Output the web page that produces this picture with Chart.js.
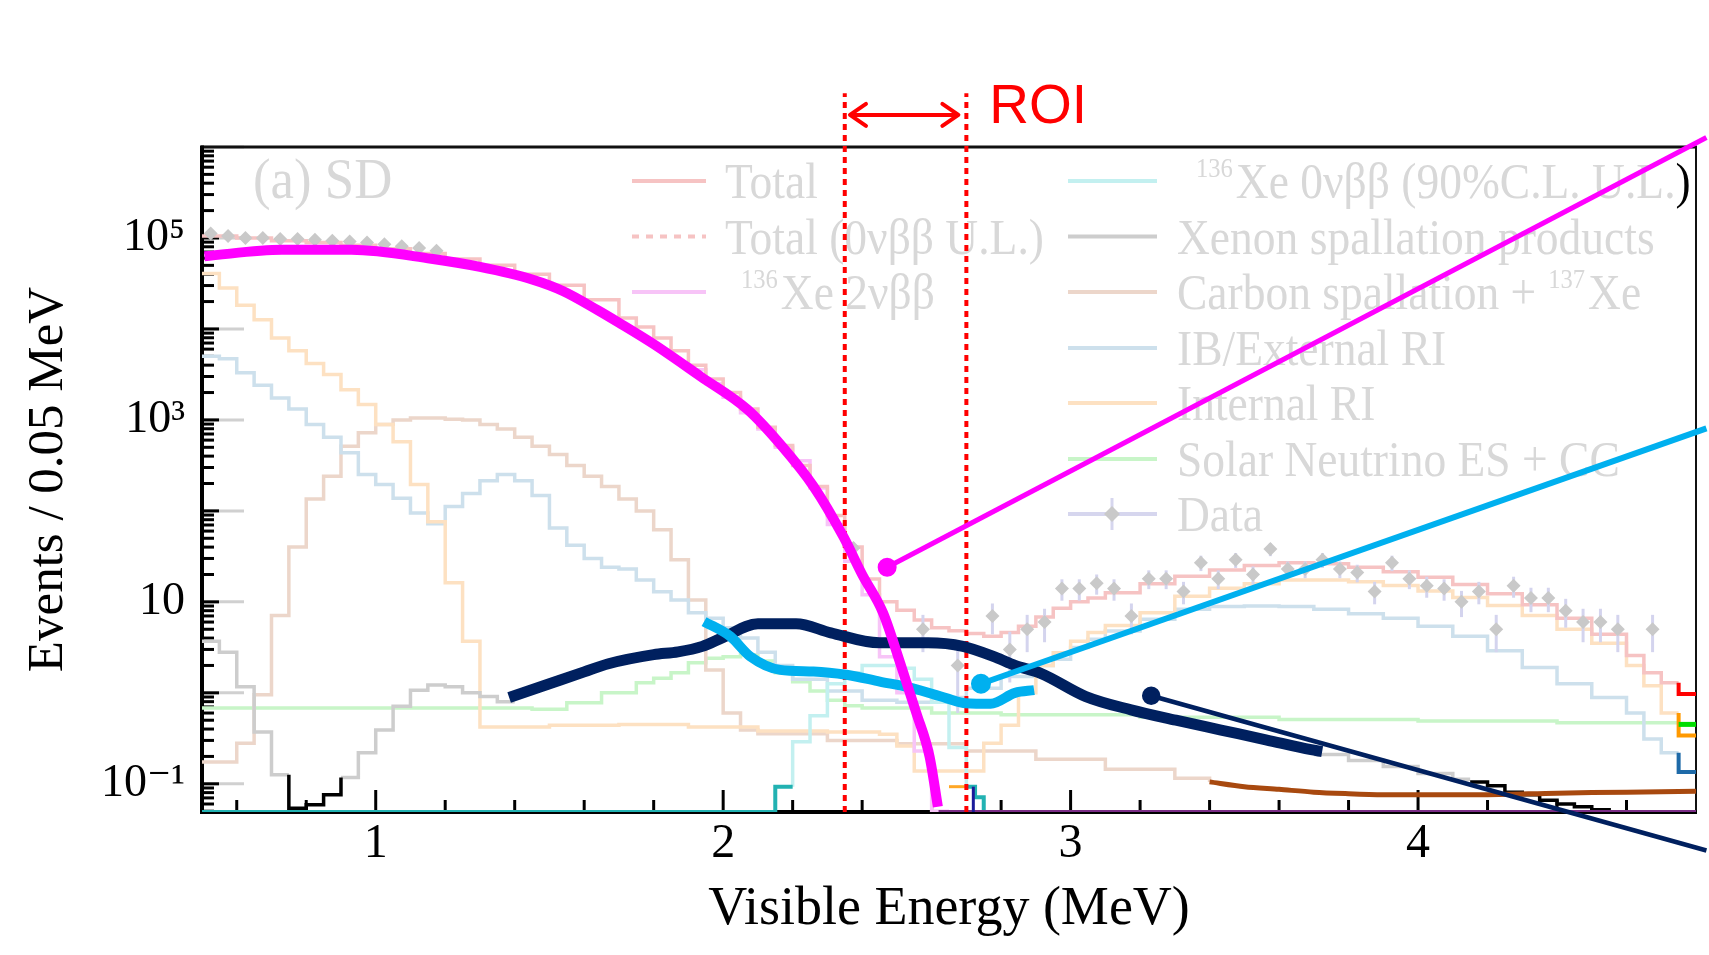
<!DOCTYPE html>
<html>
<head>
<meta charset="utf-8">
<script src="https://cdn.jsdelivr.net/npm/chart.js@4.4.1/dist/chart.umd.min.js"></script>
<style>
  html, body { margin: 0; padding: 0; background: #fff; }
</style>
</head>
<body>
<canvas id="spectrum" width="1709" height="955"></canvas>
<script>
// axes
const xMin = 0.5, xMax = 4.8;
const yMin = 0.049, yMax = 1e6;
const xTickValues = [1, 2, 3, 4];
const yTickValues = [0.1, 10, 1e3, 1e5];
const yTickLabels = ['10⁻¹', '10', '10³', '10⁵'];

// highlighted curves drawn over the figure
const magentaE = [0.507, 0.73, 0.93, 1.16, 1.30, 1.45, 1.54, 1.64, 1.70, 1.80, 1.935, 2.07, 2.17, 2.26, 2.346, 2.40, 2.46, 2.51, 2.556, 2.594, 2.618];
const magentaV = [63000, 74000, 74000, 59000, 48000, 35000, 26000, 16000, 11700, 6800, 3000, 1300, 510, 186, 52, 20, 7.6, 2.1, 0.60, 0.20, 0.056];
const navyE = [1.384, 1.50, 1.60, 1.67, 1.80, 1.87, 1.94, 2.00, 2.10, 2.21, 2.31, 2.45, 2.59, 2.69, 2.785, 2.84, 2.914, 3.044, 3.174, 3.303, 3.433, 3.562, 3.692, 3.724];
const navyV = [0.89, 1.26, 1.70, 2.09, 2.63, 2.82, 3.24, 4.07, 5.75, 5.75, 4.57, 3.55, 3.55, 3.24, 2.45, 2.0, 1.64, 0.91, 0.65, 0.50, 0.39, 0.305, 0.237, 0.226];
const cyanE = [1.945, 2.021, 2.078, 2.164, 2.26, 2.355, 2.451, 2.546, 2.642, 2.699, 2.77, 2.84, 2.895];
const cyanV = [6.08, 4.16, 2.51, 1.79, 1.72, 1.58, 1.33, 1.12, 0.875, 0.77, 0.76, 1.0, 1.07];

// pointer lines (start at the dot, run off the frame)
const magentaPtrE = [2.472, 4.83];
const magentaPtrV = [24, 1.27e6];
const cyanPtrE = [2.742, 4.83];
const cyanPtrV = [1.26, 809];
const navyPtrE = [3.232, 4.83];
const navyPtrV = [0.93, 0.0185];

// region of interest
const roiE = [2.35, 2.70];
const roiTopV = 3.9e6;
const roiArrowE = [2.365, 2.677];
const roiArrowV = [2.25e6, 2.25e6];

// data points
const dataE = [0.525, 0.575, 0.625, 0.675, 0.725, 0.775, 0.825, 0.875, 0.925, 0.975, 1.025, 1.075, 1.125, 1.175,
  2.375, 2.575, 2.675, 2.775, 2.825, 2.875, 2.925, 2.975, 3.025, 3.075, 3.125, 3.175, 3.225, 3.275, 3.325, 3.375,
  3.425, 3.475, 3.525, 3.575, 3.625, 3.675, 3.725, 3.775, 3.825, 3.875, 3.925, 3.975, 4.025, 4.075, 4.125, 4.175,
  4.225, 4.275, 4.325, 4.375, 4.425, 4.475, 4.525, 4.575, 4.675];
const dataV = [112000, 105000, 100000, 100000, 97700, 97700, 95500, 93300, 91200, 89100, 85100, 81300, 77600, 72400,
  39, 5, 2, 7, 3, 5, 6, 14, 14, 16, 14, 7, 18, 18, 13, 27,
  18, 29, 20, 38, 23, 23, 29, 23, 21, 13, 27, 18, 15, 14, 10, 13,
  5, 15, 11, 11, 8, 6, 6, 5, 5];
const dataErr = [0, 0, 0, 0, 0, 0, 0, 0, 0, 0, 0, 0, 0, 0,
  6, 2.2, 1.4, 2.6, 1.7, 2.2, 2.4, 3.7, 3.7, 4, 3.7, 2.6, 4.2, 4.2, 3.6, 5.2,
  4.2, 5.4, 4.5, 6.2, 4.8, 4.8, 5.4, 4.8, 4.6, 3.6, 5.2, 4.2, 3.9, 3.7, 3.2, 3.6,
  2.2, 3.9, 3.3, 3.3, 2.8, 2.4, 2.4, 2.2, 2.2];

// faded histograms (bin low edges, last entry closes the last bin)
const totalE = [0.50, 0.60, 0.70, 0.80, 0.90, 1.00, 1.10, 1.20, 1.30, 1.40, 1.50, 1.60,
  1.70, 1.75, 1.80, 1.85, 1.90, 1.95, 2.00, 2.05, 2.10, 2.15, 2.20, 2.25, 2.30, 2.35, 2.40, 2.45, 2.50, 2.55,
  2.60, 2.65, 2.70, 2.75, 2.80, 2.85, 2.90, 2.95, 3.00, 3.05, 3.10,
  3.20, 3.30, 3.40, 3.50, 3.60, 3.70, 3.80, 3.90, 4.00, 4.10, 4.20, 4.30, 4.40, 4.50, 4.60,
  4.65, 4.70, 4.75];
const totalV = [105000, 100000, 93300, 89100, 83200, 75900, 67600, 58900, 50100, 39800, 30200, 20900,
  13200, 10500, 7940, 5750, 3980, 2820, 2000, 1320, 832, 525, 316, 186, 89, 40, 17.8, 10.0, 8.1, 6.3,
  5.2, 4.8, 4.5, 4.2, 4.6, 5.4, 6.8, 8.5, 10.0, 11.0, 12.6,
  15.8, 19.1, 22.4, 25.1, 26.9, 26.3, 24.0, 21.4, 18.6, 15.5, 12.3, 9.3, 6.6, 4.4, 2.57,
  1.66, 1.29, 1.29];
const xe2nuE = [1.90, 1.95, 2.00, 2.05, 2.10, 2.15, 2.20, 2.25, 2.30, 2.35, 2.40, 2.45, 2.50, 2.55, 2.60, 2.65];
const xe2nuV = [3550, 2510, 1780, 1200, 794, 500, 355, 178, 71, 28, 12, 2.5, 1.0, 0.23, 0.05, 0.05];
const xe0nuE = [2.20, 2.20, 2.25, 2.30, 2.35, 2.40, 2.45, 2.50, 2.55, 2.60, 2.65, 2.70, 2.70];
const xe0nuV = [0.093, 0.29, 0.56, 1.26, 1.66, 2.0, 2.0, 1.86, 1.41, 0.79, 0.25, 0.25, 0.093];
const ibE = [0.50, 0.55, 0.60, 0.65, 0.70, 0.75, 0.80, 0.85, 0.90, 0.95, 1.00, 1.05, 1.10, 1.15, 1.20, 1.25, 1.30,
  1.35, 1.40, 1.45, 1.50, 1.55, 1.60, 1.65, 1.70, 1.75, 1.80, 1.85, 1.90, 1.95, 2.00, 2.05, 2.10, 2.15, 2.20,
  2.30, 2.40, 2.50, 2.60, 2.70, 2.80, 2.90, 2.95, 3.00, 3.05, 3.10,
  3.20, 3.30, 3.40, 3.50, 3.60, 3.70, 3.80, 3.90, 4.00, 4.10, 4.20, 4.30, 4.40, 4.50, 4.60, 4.65, 4.70, 4.75];
const ibV = [5000, 4700, 3300, 2400, 1740, 1320, 890, 645, 437, 251, 195, 138, 95, 72, 112, 155, 214,
  251, 214, 148, 65, 42, 30, 24, 23, 17.4, 12.9, 10.5, 7.6, 6.6, 5.2, 4.0, 2.8, 2.0, 1.41,
  1.05, 0.83, 0.79, 0.89, 1.12, 1.51, 2.0, 2.34, 3.16, 3.89, 4.79,
  6.46, 8.3, 8.9, 9.0, 8.9, 8.3, 7.4, 6.6, 5.4, 4.2, 2.9, 1.9, 1.26, 0.89, 0.60, 0.31, 0.22, 0.22];
const internalE = [0.50, 0.55, 0.60, 0.65, 0.70, 0.75, 0.80, 0.85, 0.90, 0.95, 1.00, 1.05, 1.10, 1.15, 1.20, 1.25, 1.30,
  1.50, 1.70, 1.90, 2.10, 2.30, 2.45, 2.50, 2.55, 2.75, 2.80,
  2.85, 2.90, 2.95, 3.00, 3.05, 3.10,
  3.20, 3.30, 3.40, 3.50, 3.60, 3.70, 3.80, 3.90, 4.00, 4.10, 4.20, 4.30, 4.40, 4.50, 4.60, 4.65, 4.70, 4.75];
const internalV = [40700, 28200, 18200, 12600, 7940, 5750, 4170, 3160, 2140, 1480, 891, 575, 195, 76, 16.2, 3.7, 0.42,
  0.44, 0.45, 0.42, 0.38, 0.37, 0.35, 0.26, 0.138, 0.28, 0.44,
  1.0, 2.0, 2.75, 3.7, 4.6, 5.5,
  7.6, 11.5, 14.1, 15.8, 17.4, 17.4, 16.6, 15.1, 13.2, 11.2, 9.1, 7.1, 5.0, 3.5, 2.0, 1.2, 0.60, 0.60];
const carbonE = [0.50, 0.60, 0.65, 0.70, 0.75, 0.80, 0.85, 0.90, 0.95, 1.00,
  1.05, 1.10, 1.15, 1.20, 1.25, 1.30, 1.35, 1.40, 1.45, 1.50,
  1.55, 1.60, 1.65, 1.70, 1.75, 1.80, 1.85, 1.90, 1.95, 2.00, 2.05, 2.10,
  2.30, 2.50, 2.70, 2.90, 3.10, 3.30, 3.40];
const carbonV = [0.174, 0.28, 0.95, 7.1, 40, 135, 240, 513, 724, 891,
  1000, 1050, 1050, 1020, 1000, 891, 794, 646, 513, 417,
  316, 240, 186, 135, 100, 62, 29, 10.5, 1.78, 0.60, 0.39, 0.355,
  0.30, 0.275, 0.23, 0.186, 0.145, 0.115, 0.105];
const carbonBoldE = [3.40, 3.50, 3.60, 3.70, 3.80, 3.90, 4.00, 4.20, 4.40, 4.60, 4.80];
const carbonBoldV = [0.105, 0.093, 0.087, 0.081, 0.078, 0.076, 0.076, 0.076, 0.079, 0.081, 0.083];
const solarE = [0.50, 1.45, 1.55, 1.65, 1.75, 1.80, 1.85, 1.90, 1.95, 2.00, 2.05, 2.10, 2.15, 2.20, 2.25, 2.30,
  2.35, 2.40, 2.60, 2.80, 3.20, 3.60, 4.00, 4.40, 4.75];
const solarV = [0.68, 0.66, 0.78, 1.0, 1.29, 1.45, 1.66, 2.14, 2.4, 2.5, 2.63, 2.24, 1.66, 1.32, 1.05, 0.83,
  0.72, 0.68, 0.60, 0.575, 0.54, 0.51, 0.49, 0.47, 0.47];
const xenonLowE = [0.50, 0.55, 0.60, 0.65, 0.70, 0.75];
const xenonLowV = [3.7, 2.8, 1.17, 0.37, 0.126, 0.126];
const xenonMidE = [0.90, 0.95, 1.00, 1.05, 1.10, 1.15, 1.20, 1.25, 1.30, 1.35, 1.40];
const xenonMidV = [0.117, 0.22, 0.39, 0.71, 1.07, 1.22, 1.17, 1.0, 0.91, 0.80, 0.80];
const xenonHighE = [3.70, 3.80, 3.90, 4.00, 4.10, 4.15];
const xenonHighV = [0.21, 0.18, 0.155, 0.13, 0.112, 0.112];

// full-colour pieces of the original figure
const blackLowE = [0.75, 0.75, 0.80, 0.85, 0.90, 0.90];
const blackLowV = [0.126, 0.054, 0.059, 0.076, 0.076, 0.117];
const blackHighE = [4.15, 4.20, 4.25, 4.30, 4.35, 4.40, 4.45, 4.50, 4.55, 4.55];
const blackHighV = [0.105, 0.095, 0.081, 0.076, 0.066, 0.060, 0.056, 0.052, 0.052, yMin];
const tealLowE = [0.50, 2.15, 2.20];
const tealLowV = [yMin, 0.093, 0.093];
const tealHighE = [2.70, 2.725, 2.75, 2.75];
const tealHighV = [0.093, 0.071, 0.071, yMin];
const purpleE = [2.62, 4.80];
const purpleV = [yMin, yMin];
const orangeTickE = [2.65, 2.70];
const orangeTickV = [0.093, 0.093];
const navyTickE = [2.72, 2.72];
const navyTickV = [yMin, 0.093];
const edgeRedE = [4.75, 4.75, 4.80];
const edgeRedV = [1.29, 0.97, 0.97];
const edgeOrangeE = [4.75, 4.75, 4.80];
const edgeOrangeV = [0.60, 0.34, 0.34];
const edgeGreenE = [4.75, 4.80];
const edgeGreenV = [0.45, 0.45];
const edgeBlueE = [4.75, 4.75, 4.80];
const edgeBlueV = [0.22, 0.135, 0.135];

const fadedRed = '#f6c3c3', fadedMagenta = '#f7c4f7', fadedCyan = '#c3f0f0', fadedGray = '#cdcdcd';
const fadedBrown = '#ecd6ca', fadedBlue = '#cde0ec', fadedOrange = '#fde1c2', fadedGreen = '#c8f5c8';
const roiRed = '#ff0000';
const serif = '"Liberation Serif", "DejaVu Serif", serif';

const pts = (xs, ys) => xs.map((x, i) => ({ x: x, y: ys[i] }));

function curve(xs, ys, color, width, opts) {
    return Object.assign({
        data: pts(xs, ys),
        borderColor: color,
        backgroundColor: color,
        borderWidth: width,
        pointRadius: 0,
        pointHoverRadius: 0,
        fill: false,
        tension: 0
    }, opts || {});
}

// histogram: flat across each bin, then jump at the next edge
function steps(xs, ys, color, width) {
    return curve(xs, ys, color, width, { stepped: 'before' });
}

function smooth(xs, ys, color, width) {
    return curve(xs, ys, color, width, { tension: 0.4, cubicInterpolationMode: 'monotone', borderCapStyle: 'butt' });
}

function pointer(xs, ys, color, width) {
    return curve(xs, ys, color, width, { pointRadius: [7, 0], clip: false });
}

// back to front
const datasets = [
    steps(solarE, solarV, fadedGreen, 3.5),
    steps(carbonE, carbonV, fadedBrown, 3.5),
    steps(ibE, ibV, fadedBlue, 3.5),
    steps(internalE, internalV, fadedOrange, 3.5),
    steps(xenonLowE, xenonLowV, fadedGray, 3.5),
    steps(xenonMidE, xenonMidV, fadedGray, 3.5),
    steps(xenonHighE, xenonHighV, fadedGray, 3.5),
    steps(xe0nuE, xe0nuV, fadedCyan, 3.5),
    steps(xe2nuE, xe2nuV, fadedMagenta, 3.5),
    steps(totalE, totalV, fadedRed, 3.5),
    {
        label: 'Data',
        data: pts(dataE, dataV),
        showLine: false,
        pointStyle: 'rectRot',
        pointRadius: 7,
        pointHoverRadius: 7,
        pointBackgroundColor: '#c9c9c9',
        pointBorderWidth: 0
    },
    steps(blackLowE, blackLowV, '#000000', 3.5),
    steps(blackHighE, blackHighV, '#000000', 3.5),
    curve(carbonBoldE, carbonBoldV, '#a8490f', 5, { tension: 0.3 }),
    steps(tealLowE, tealLowV, '#22b2b2', 4),
    steps(tealHighE, tealHighV, '#22b2b2', 4),
    curve(purpleE, purpleV, '#7b2d86', 4),
    curve(orangeTickE, orangeTickV, '#ffa726', 3),
    curve(navyTickE, navyTickV, '#1b1b9a', 3),
    steps(edgeRedE, edgeRedV, '#ff0000', 4),
    steps(edgeOrangeE, edgeOrangeV, '#ff9900', 4),
    curve(edgeGreenE, edgeGreenV, '#00dd00', 5),
    steps(edgeBlueE, edgeBlueV, '#1e6aa8', 4),
    curve([roiE[0], roiE[0]], [yMin, roiTopV], roiRed, 4, { borderDash: [6, 5], clip: false }),
    curve([roiE[1], roiE[1]], [yMin, roiTopV], roiRed, 4, { borderDash: [6, 5], clip: false }),
    smooth(navyE, navyV, '#00205f', 11),
    smooth(cyanE, cyanV, '#00b0ef', 10),
    smooth(magentaE, magentaV, '#ff00ff', 10),
    pointer(navyPtrE, navyPtrV, '#00205f', 4.5),
    pointer(cyanPtrE, cyanPtrV, '#00b0ef', 6),
    pointer(magentaPtrE, magentaPtrV, '#ff00ff', 5),
    curve(roiArrowE, roiArrowV, roiRed, 4, { clip: false })
];
datasets.forEach((d, i) => { d.order = datasets.length - i; });

// washed-out legend and panel label of the original plot
const fadedLegend = {
    id: 'fadedLegend',
    beforeDatasetsDraw(chart) {
        const ctx = chart.ctx;
        const grey = '#d8d8d8';
        const put = (str, x, y, size, color) => {
            ctx.save();
            ctx.font = size + 'px ' + serif;
            ctx.fillStyle = color || grey;
            ctx.textBaseline = 'alphabetic';
            ctx.translate(x, y);
            ctx.scale(0.91, 1);
            ctx.fillText(str, 0, 0);
            const w = ctx.measureText(str).width * 0.91;
            ctx.restore();
            return x + w;
        };
        const sample = (x1, x2, y, color, dash) => {
            ctx.save();
            ctx.strokeStyle = color;
            ctx.lineWidth = 4;
            if (dash) ctx.setLineDash(dash);
            ctx.beginPath();
            ctx.moveTo(x1, y);
            ctx.lineTo(x2, y);
            ctx.stroke();
            ctx.restore();
        };
        const rows = [198, 253.5, 309, 365, 420, 476, 531];

        put('(a) SD', 253, 198, 58);

        sample(632, 706, rows[0] - 17, fadedRed);
        put('Total', 725, rows[0], 50);
        sample(632, 706, rows[1] - 17, fadedRed, [7, 7]);
        put('Total (0νββ U.L.)', 725, rows[1], 50);
        sample(632, 706, rows[2] - 17, fadedMagenta);
        put('Xe 2νββ', put('136', 741, rows[2] - 21, 27) + 3, rows[2], 50);

        const x1 = 1068, x2 = 1157, tx = 1177;
        sample(x1, x2, rows[0] - 17, fadedCyan);
        const xeAt = put('136', 1196, rows[0] - 21, 27) + 3;
        const end = put('Xe 0νββ (90%C.L. U.L.', xeAt, rows[0], 50);
        put(')', end, rows[0], 50, '#000');
        sample(x1, x2, rows[1] - 17, fadedGray);
        put('Xenon spallation products', tx, rows[1], 50);
        sample(x1, x2, rows[2] - 17, fadedBrown);
        const plusEnd = put('Carbon spallation +', tx, rows[2], 50);
        put('Xe', put('137', plusEnd + 12, rows[2] - 21, 27) + 3, rows[2], 50);
        sample(x1, x2, rows[3] - 17, fadedBlue);
        put('IB/External RI', tx, rows[3], 50);
        sample(x1, x2, rows[4] - 17, fadedOrange);
        put('Internal RI', tx, rows[4], 50);
        sample(x1, x2, rows[5] - 17, fadedGreen);
        put('Solar Neutrino ES + CC', tx, rows[5], 50);
        sample(x1, x2, rows[6] - 17, '#d6d6ee');
        ctx.save();
        ctx.strokeStyle = '#d6d6ee';
        ctx.lineWidth = 3;
        ctx.beginPath();
        ctx.moveTo(1112, rows[6] - 33);
        ctx.lineTo(1112, rows[6] - 1);
        ctx.stroke();
        ctx.fillStyle = '#c9c9c9';
        ctx.beginPath();
        ctx.moveTo(1112, rows[6] - 25);
        ctx.lineTo(1120, rows[6] - 17);
        ctx.lineTo(1112, rows[6] - 9);
        ctx.lineTo(1104, rows[6] - 17);
        ctx.closePath();
        ctx.fill();
        ctx.restore();
        put('Data', tx, rows[6], 50);
    }
};

// ROOT style frame with inward ticks
const axisFrame = {
    id: 'axisFrame',
    beforeDatasetsDraw(chart) {
        const { ctx, chartArea: a, scales: { x, y } } = chart;
        const seg = (x1, y1, x2, y2) => { ctx.beginPath(); ctx.moveTo(x1, y1); ctx.lineTo(x2, y2); ctx.stroke(); };
        ctx.save();
        ctx.strokeStyle = '#d0d0d0';
        ctx.lineWidth = 3;
        for (let p = -1; p <= 6; p++) {
            const py = y.getPixelForValue(Math.pow(10, p));
            if (py >= a.top && py <= a.bottom) seg(a.left, py, a.left + 42, py);
        }
        ctx.strokeStyle = '#000';
        for (let p = -2; p <= 5; p++) {
            for (let k = 1; k <= 9; k++) {
                const v = k * Math.pow(10, p);
                if (v < yMin || v > yMax) continue;
                const py = y.getPixelForValue(v);
                seg(a.left, py, a.left + (k === 1 ? 17 : 12), py);
            }
        }
        for (let i = 3; i <= 23; i++) {
            const px = x.getPixelForValue(i / 5);
            seg(px, a.bottom, px, a.bottom - (i % 5 === 0 ? 22 : 12));
        }
        ctx.strokeStyle = '#111';
        ctx.lineWidth = 3;
        seg(a.left - 1, a.top, a.right + 1, a.top);
        ctx.lineWidth = 2;
        seg(a.right, a.top, a.right, a.bottom);
        ctx.strokeStyle = '#000';
        ctx.lineWidth = 4;
        seg(a.left, a.top - 1.5, a.left, a.bottom + 2);
        seg(a.left - 2, a.bottom, a.right + 1, a.bottom);
        ctx.restore();
    }
};

const errorBars = {
    id: 'errorBars',
    beforeDatasetDraw(chart, args) {
        if (chart.data.datasets[args.index].label !== 'Data') return;
        const { ctx, scales: { y } } = chart;
        ctx.save();
        ctx.strokeStyle = '#d4d4ee';
        ctx.lineWidth = 3;
        args.meta.data.forEach((pt, i) => {
            const err = dataErr[i];
            if (!err) return;
            ctx.beginPath();
            ctx.moveTo(pt.x, y.getPixelForValue(dataV[i] + err));
            ctx.lineTo(pt.x, y.getPixelForValue(Math.max(dataV[i] - err, yMin)));
            ctx.stroke();
        });
        ctx.restore();
    }
};

const roiMarks = {
    id: 'roiMarks',
    afterDatasetsDraw(chart) {
        const { ctx, scales: { x, y } } = chart;
        const ya = y.getPixelForValue(roiArrowV[0]);
        const xl = x.getPixelForValue(roiArrowE[0]);
        const xr = x.getPixelForValue(roiArrowE[1]);
        ctx.save();
        ctx.strokeStyle = roiRed;
        ctx.lineWidth = 4;
        ctx.lineCap = 'round';
        ctx.lineJoin = 'round';
        ctx.beginPath();
        ctx.moveTo(xl + 16, ya - 11);
        ctx.lineTo(xl, ya);
        ctx.lineTo(xl + 16, ya + 11);
        ctx.moveTo(xr - 16, ya - 11);
        ctx.lineTo(xr, ya);
        ctx.lineTo(xr - 16, ya + 11);
        ctx.stroke();
        ctx.fillStyle = roiRed;
        ctx.font = '55px "Liberation Sans", Arial, sans-serif';
        ctx.textBaseline = 'alphabetic';
        ctx.fillText('ROI', x.getPixelForValue(roiE[1]) + 23, 123);
        ctx.restore();
    }
};

new Chart(document.getElementById('spectrum').getContext('2d'), {
    type: 'line',
    data: { datasets: datasets },
    options: {
        responsive: false,
        animation: false,
        events: [],
        layout: { padding: { top: 147, right: 5, left: 0, bottom: 0 } },
        plugins: {
            legend: { display: false },
            tooltip: { enabled: false }
        },
        scales: {
            x: {
                type: 'linear',
                min: xMin,
                max: xMax,
                grid: { display: false, drawTicks: false },
                border: { display: false },
                afterBuildTicks: (s) => { s.ticks = xTickValues.map(v => ({ value: v })); },
                afterFit: (s) => { s.height = 143; },
                ticks: {
                    autoSkip: false,
                    maxRotation: 0,
                    padding: 4,
                    color: '#000',
                    font: { family: serif, size: 48 },
                    callback: (v) => String(v)
                },
                title: {
                    display: true,
                    text: 'Visible Energy (MeV)',
                    color: '#000',
                    font: { family: serif, size: 54 },
                    padding: { top: 0, bottom: 13 }
                }
            },
            y: {
                type: 'logarithmic',
                min: yMin,
                max: yMax,
                grid: { display: false, drawTicks: false },
                border: { display: false },
                afterBuildTicks: (s) => { s.ticks = yTickValues.map(v => ({ value: v })); },
                afterFit: (s) => { s.width = 202; },
                ticks: {
                    autoSkip: false,
                    padding: 17,
                    color: '#000',
                    font: { family: serif, size: 46 },
                    callback: (v) => {
                        const i = yTickValues.indexOf(v);
                        return i < 0 ? '' : yTickLabels[i];
                    }
                },
                title: {
                    display: true,
                    text: 'Events / 0.05 MeV',
                    color: '#000',
                    font: { family: serif, size: 51 },
                    padding: { top: 18, bottom: 0 }
                }
            }
        }
    },
    plugins: [fadedLegend, axisFrame, errorBars, roiMarks]
});
</script>
</body>
</html>
